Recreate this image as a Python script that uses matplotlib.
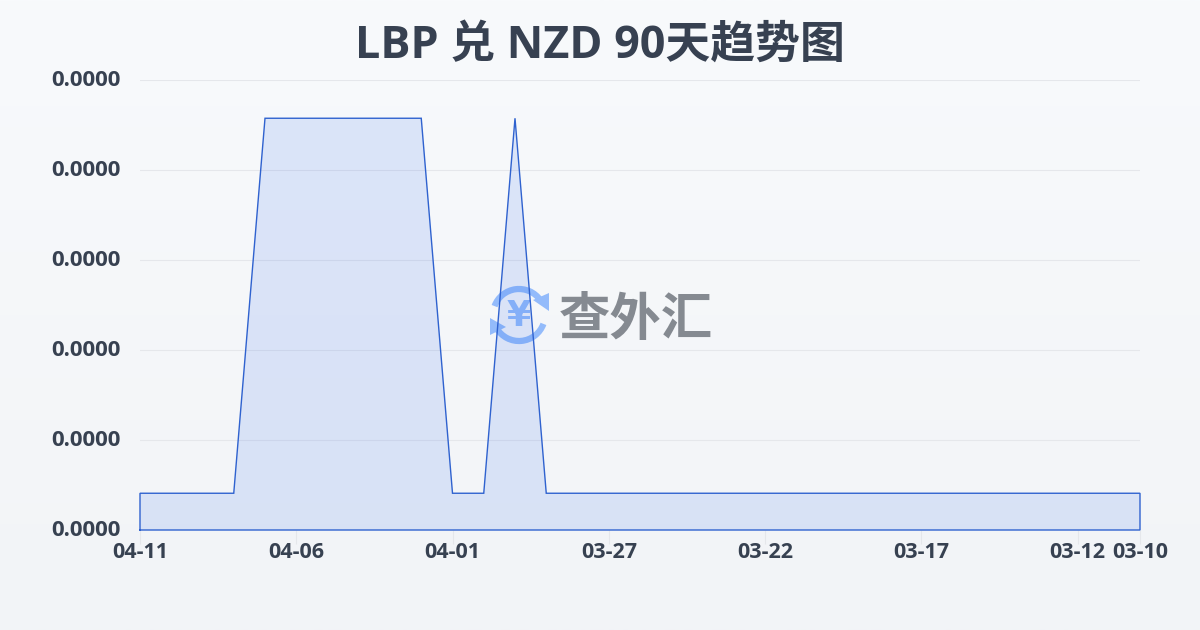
import numpy as np
import matplotlib
matplotlib.use("Agg")
import matplotlib.pyplot as plt
from matplotlib.patches import Arc, Polygon
from matplotlib.transforms import ScaledTranslation

plt.rcParams['font.family'] = ['Open Sans', 'Noto Sans CJK SC', 'DejaVu Sans']

TITLE = "LBP 兑 NZD 90天趋势图"
DATES = ["04-11","04-10","04-09","04-08","04-07","04-06","04-05","04-04","04-03","04-02","04-01",
         "03-31","03-30","03-29","03-28","03-27","03-26","03-25","03-24","03-23","03-22","03-21",
         "03-20","03-19","03-18","03-17","03-16","03-15","03-14","03-13","03-12","03-11","03-10"]
LOW = 0.000017998
HIGH = 0.000018998
RATES = [LOW,LOW,LOW,LOW,HIGH,HIGH,HIGH,HIGH,HIGH,HIGH,LOW,LOW,HIGH,LOW] + [LOW]*19
TICK_DATES = ["04-11","04-06","04-01","03-27","03-22","03-17","03-12","03-10"]
Y_TICKS = [0.00001790,0.00001814,0.00001838,0.00001862,0.00001886,0.00001910]

fig = plt.figure(figsize=(12,6.3), dpi=100)

# background gradient
bg = fig.add_axes([0,0,1,1], zorder=0)
top = np.array([0xf8,0xfa,0xfc])/255
bot = np.array([0xf2,0xf4,0xf7])/255
t = np.linspace(0,1,256)[:,None,None]
bg.imshow(top*(1-t)+bot*t, aspect='auto', extent=(0,1200,630,0))
bg.set_xlim(0,1200); bg.set_ylim(630,0); bg.axis('off')

# watermark
cx, cy, r = 519, 315, 26
blue = '#93bbfb'
bg.add_patch(Arc((cx,cy),2*r,2*r,theta1=200,theta2=325,color=blue,lw=4.5))
bg.add_patch(Arc((cx,cy),2*r,2*r,theta1=20,theta2=150,color=blue,lw=4.5))
bg.add_patch(Polygon([(533,300),(549,293),(549,311)],closed=True,color=blue,lw=0))
bg.add_patch(Polygon([(490,318),(490,335),(506,327)],closed=True,color=blue,lw=0))
bg.text(cx,cy+1,"¥",fontsize=25,color=blue,ha='center',va='center',family='DejaVu Sans',fontweight='bold')
bg.text(636,320,"查外汇",fontsize=37,color='#858a91',ha='center',va='center',fontweight='bold',family='Noto Sans CJK SC')

ax = fig.add_axes([140/1200,1-530/630,1000/1200,450/630], zorder=1)
ax.patch.set_alpha(0)
x = np.arange(len(DATES))
ax.fill_between(x,RATES,Y_TICKS[0],facecolor='#2563eb',alpha=0.13,edgecolor='none',zorder=2)
verts_x = [x[0]]+list(x)+[x[-1],x[0]]
verts_y = [Y_TICKS[0]]+RATES+[Y_TICKS[0],Y_TICKS[0]]
ax.plot(verts_x,verts_y,color='#2f62cf',lw=1.0,zorder=3,solid_joinstyle='miter',clip_on=False)
ax.set_xlim(0,len(DATES)-1)
ax.set_ylim(Y_TICKS[0],Y_TICKS[-1])
ax.set_yticks(Y_TICKS)
ax.set_yticklabels([f"{v:.4f}" for v in Y_TICKS],fontsize=16,fontweight='bold',color='#374151')
ax.set_xticks([DATES.index(d) for d in TICK_DATES])
ax.set_xticklabels(TICK_DATES,fontsize=15.5,fontweight='bold',color='#374151')
ax.grid(axis='y',color='#e5e7eb',lw=0.8,zorder=1)
ax.set_axisbelow(True)
for s in ax.spines.values(): s.set_visible(False)
ax.tick_params(axis='y',length=0,pad=14)
ax.tick_params(axis='x',length=10,width=0.8,color='#e5e7eb',pad=-1)
shift = ScaledTranslation(0,1.5/72,fig.dpi_scale_trans)
for lab in ax.get_yticklabels():
    lab.set_transform(lab.get_transform()+shift)

fig.text(0.5,1-46/630,TITLE,fontsize=32.3,fontweight='bold',color='#374151',ha='center',va='center')
fig.savefig("out.png",dpi=100)
